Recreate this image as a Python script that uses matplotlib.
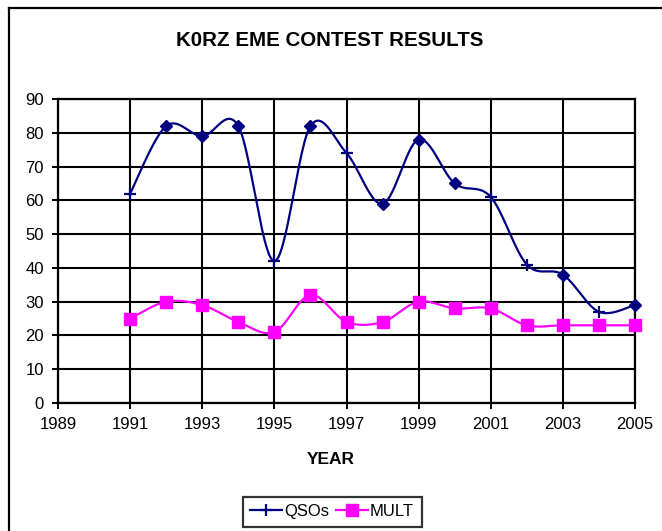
import numpy as np
import matplotlib
matplotlib.use("Agg")
import matplotlib.pyplot as plt
from matplotlib.lines import Line2D

years = [1991, 1992, 1993, 1994, 1995, 1996, 1997, 1998, 1999, 2000, 2001, 2002, 2003, 2004, 2005]
qsos = [62, 82, 79, 82, 42, 82, 74, 59, 78, 65, 61, 41, 38, 27, 29]
mult = [25, 30, 29, 24, 21, 32, 24, 24, 30, 28, 28, 23, 23, 23, 23]
qso_markers = ['+', 'D', 'D', 'D', '+', 'D', '+', 'D', 'D', 'D', '+', '+', 'D', '+', 'D']

title = "K0RZ EME CONTEST RESULTS"
xlabel = "YEAR"
series_names = ["QSOs", "MULT"]
xticks = list(range(1989, 2006, 2))
yticks = list(range(0, 91, 10))

NAVY = "#000080"
MAG = "#FF00FF"

plt.rcParams['font.family'] = ['Liberation Sans', 'DejaVu Sans']


def smooth(x, y, n=30):
    x = np.asarray(x, float)
    y = np.asarray(y, float)
    px = np.concatenate([[x[0]], x, [x[-1]]])
    py = np.concatenate([[y[0]], y, [y[-1]]])
    xs, ys = [], []
    t = np.linspace(0, 1, n)
    for i in range(1, len(px) - 2):
        p0 = np.array([px[i], py[i]])
        p3 = np.array([px[i + 1], py[i + 1]])
        c1 = p0 + (np.array([px[i + 1], py[i + 1]]) - np.array([px[i - 1], py[i - 1]])) / 6
        c2 = p3 - (np.array([px[i + 2], py[i + 2]]) - np.array([px[i], py[i]])) / 6
        b = ((1 - t) ** 3)[:, None] * p0 + (3 * (1 - t) ** 2 * t)[:, None] * c1 \
            + (3 * (1 - t) * t ** 2)[:, None] * c2 + (t ** 3)[:, None] * p3
        xs.extend(b[:, 0])
        ys.extend(b[:, 1])
    return np.array(xs), np.array(ys)


W, H = 662, 531
fig = plt.figure(figsize=(W / 100, H / 100), dpi=100)
ax = fig.add_axes([58 / W, 1 - 403 / H, (635 - 58) / W, (403 - 99) / H])

# outer chart border (clipped at right and bottom)
fig.add_artist(Line2D([9 / W, 9 / W], [0, 1 - 8 / H], color='black', lw=1.6, transform=fig.transFigure))
fig.add_artist(Line2D([9 / W, 1], [1 - 8 / H, 1 - 8 / H], color='black', lw=1.6, transform=fig.transFigure))

ax.set_xlim(1989, 2005)
ax.set_ylim(0, 90)
ax.set_xticks(xticks)
ax.set_yticks(yticks)
ax.tick_params(direction='out', length=4, width=1.4, labelsize=12, colors='black', pad=6)
ax.grid(True, color='black', lw=1.5)
ax.set_axisbelow(True)
for s in ax.spines.values():
    s.set_linewidth(1.6)
    s.set_color('black')

sx, sy = smooth(years, qsos)
ax.plot(sx, sy, color=NAVY, lw=1.6, zorder=3)
for x, y, m in zip(years, qsos, qso_markers):
    if m == 'D':
        ax.plot([x], [y], marker='D', ms=6, color=NAVY, zorder=4, clip_on=False)
    else:
        ax.plot([x], [y], marker='+', ms=9, mew=1.6, color=NAVY, zorder=4, clip_on=False)

mx, my = smooth(years, mult)
ax.plot(mx, my, color=MAG, lw=1.6, zorder=3)
ax.plot(years, mult, ls='none', marker='s', ms=8, color=MAG, zorder=4, clip_on=False)

fig.text(330 / W, 1 - 40 / H, title, ha='center', va='center', fontsize=14.8, fontweight='bold')
fig.text(331 / W, 1 - 460 / H, xlabel, ha='center', va='center', fontsize=12.5, fontweight='bold')

handles = [Line2D([], [], color=NAVY, lw=1.6, marker='+', ms=9, mew=1.6),
           Line2D([], [], color=MAG, lw=1.6, marker='s', ms=8)]
leg = fig.legend(handles, series_names, loc='center', bbox_to_anchor=(332 / W, 1 - 511.5 / H),
                 ncol=2, frameon=True, fancybox=False, fontsize=12, handlelength=1.9,
                 handletextpad=0.15, columnspacing=0.4, borderpad=0.45, borderaxespad=0)
leg.get_frame().set_edgecolor('black')
leg.get_frame().set_linewidth(1.6)

fig.savefig("out.png", dpi=100)
